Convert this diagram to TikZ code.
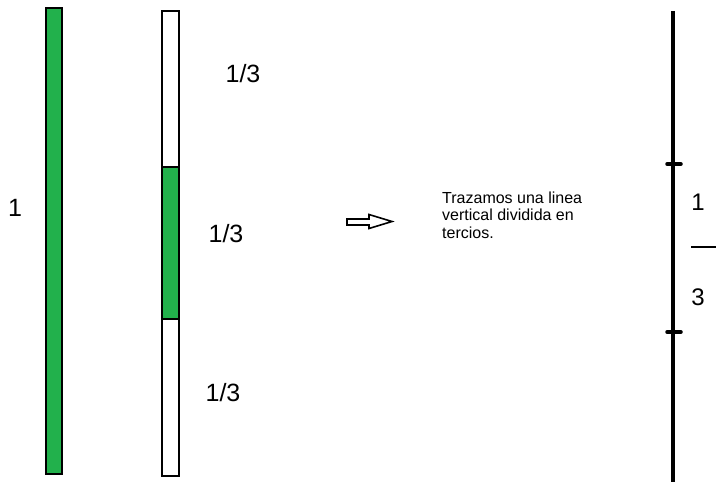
\documentclass[tikz,border=0pt]{standalone}
\usepackage{fontspec}
\setmainfont{Liberation Sans}
\definecolor{paintgreen}{HTML}{22B14C}
\begin{document}
\begin{tikzpicture}[x=1pt,y=-1pt,
  barbox/.style={draw=black,line width=2pt},
  numlabel/.style={font=\fontsize{25}{30}\selectfont,inner sep=0pt},
  notetext/.style={font=\fontsize{16}{17.5}\selectfont,align=left,inner sep=0pt,anchor=north west}]
\useasboundingbox (0,0) rectangle (716,487);
% left bar
\filldraw[barbox,fill=paintgreen] (46,8) rectangle (62,474);
\node[numlabel] (one) at (15,208) {1};
% middle bar
\fill[paintgreen] (161.5,167) rectangle (178.5,319);
\draw[barbox] (161.5,11) rectangle (178.5,476);
\draw[barbox] (161.5,167) -- (178.5,167);
\draw[barbox] (161.5,319) -- (178.5,319);
\node[numlabel] (t1) at (243,74) {1/3};
\node[numlabel] (t2) at (226,234) {1/3};
\node[numlabel] (t3) at (223,393) {1/3};
% arrow
\draw[line width=1.6pt,line join=miter] (347,219) -- (369,219) -- (369,214.5) -- (392,221.5) -- (369,228.5) -- (369,225) -- (347,225) -- cycle;
% text
\node[notetext] (note) at (442,191.5) {Trazamos una linea\\vertical dividida en\\tercios.};
% number line
\coordinate (ltop) at (673,11);
\coordinate (lbot) at (673,482);
\draw[line width=4pt] (ltop) -- (lbot);
\coordinate (k1a) at (667,164); \coordinate (k1b) at (681,164);
\coordinate (k2a) at (667,332); \coordinate (k2b) at (681,332);
\draw[line width=3.5pt,line cap=round] (k1a) -- (k1b);
\draw[line width=3.5pt,line cap=round] (k2a) -- (k2b);
\node[numlabel,font=\fontsize{24}{28}\selectfont] (fn) at (698,202) {1};
\node[numlabel,font=\fontsize{24}{28}\selectfont] (fd) at (698,297) {3};
\coordinate (da) at (691,247); \coordinate (db) at (716,247);
\draw[line width=1.3pt] (da) -- (db);
\end{tikzpicture}
\end{document}
